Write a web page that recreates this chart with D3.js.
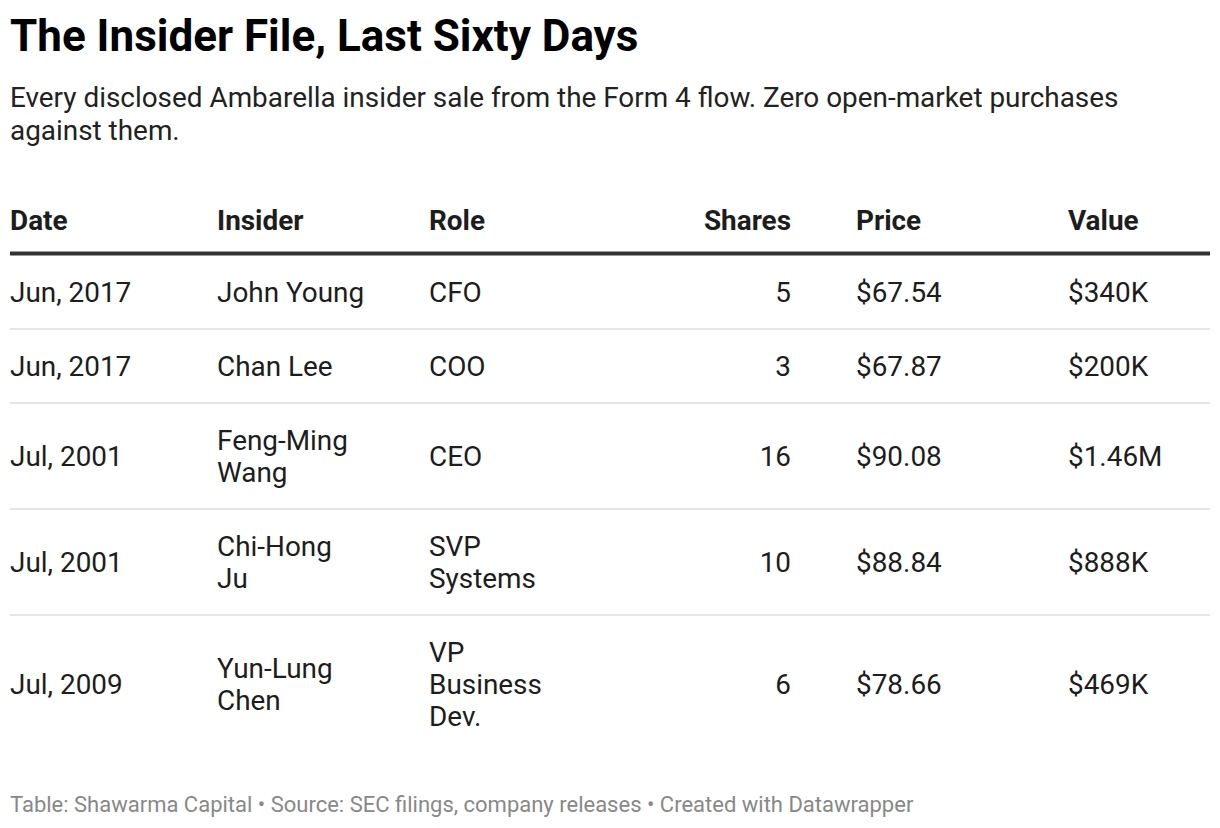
<!DOCTYPE html>
<html>
<head>
<meta charset="utf-8">
<script src="https://cdn.jsdelivr.net/npm/d3@7"></script>
<style>
  html, body { margin: 0; padding: 0; background: #fff; }
  svg { display: block; font-family: Roboto, "Noto Sans", sans-serif; }
</style>
</head>
<body>
<svg id="table"></svg>
<script>
const title = "The Insider File, Last Sixty Days";
const subtitle = "Every disclosed Ambarella insider sale from the Form 4 flow. Zero open-market purchases against them.";
const footer = "Table: Shawarma Capital \u2022 Source: SEC filings, company releases \u2022 Created with Datawrapper";

const headers = ["Date", "Insider", "Role", "Shares", "Price", "Value"];
const dates = ["Jun, 2017", "Jun, 2017", "Jul, 2001", "Jul, 2001", "Jul, 2009"];
const insiders = ["John Young", "Chan Lee", "Feng-Ming Wang", "Chi-Hong Ju", "Yun-Lung Chen"];
const roles = ["CFO", "COO", "CEO", "SVP Systems", "VP Business Dev."];
const shares = [5, 3, 16, 10, 6];
const prices = [67.54, 67.87, 90.08, 88.84, 78.66];
const values = [340000, 200000, 1460000, 888000, 469000];

(function() {
  const W = 1220, H = 828;
  const left = 10, right = 1210;
  const bodySize = 27.9, lineH = 32, pad = 21;

  const fmtPrice = d3.format("$.2f");
  const fmtValue = v => v >= 1e6 ? "$" + (v / 1e6).toFixed(2) + "M" : "$" + Math.round(v / 1e3) + "K";

  // column layout: x start (or end for right aligned), max text width
  const columns = [
    {key: "date",    x: 10,   anchor: "start", max: 190},
    {key: "insider", x: 217,  anchor: "start", max: 150},
    {key: "role",    x: 429,  anchor: "start", max: 140},
    {key: "shares",  x: 791,  anchor: "end",   max: 200},
    {key: "price",   x: 856,  anchor: "start", max: 190},
    {key: "value",   x: 1068, anchor: "start", max: 140}
  ];

  const rows = dates.map((d, i) => ({
    date: d,
    insider: insiders[i],
    role: roles[i],
    shares: String(shares[i]),
    price: fmtPrice(prices[i]),
    value: fmtValue(values[i])
  }));

  const svg = d3.select("#table").attr("width", W).attr("height", H);

  // hidden text for measuring
  const probe = svg.append("text").attr("font-size", bodySize).attr("visibility", "hidden");
  function measure(str, size, weight) {
    probe.attr("font-size", size).attr("font-weight", weight || 400).text(str);
    return probe.node().getComputedTextLength();
  }
  function wrap(str, maxW, size, weight) {
    const words = str.split(/\s+/);
    const lines = [];
    let cur = "";
    words.forEach(w => {
      const test = cur ? cur + " " + w : w;
      if (cur && measure(test, size, weight) > maxW) {
        lines.push(cur);
        cur = w;
      } else {
        cur = test;
      }
    });
    if (cur) lines.push(cur);
    return lines;
  }

  // title
  svg.append("text")
    .attr("x", left).attr("y", 51)
    .attr("font-size", 44).attr("font-weight", 700)
    .attr("fill", "#000")
    .text(title);

  // subtitle
  const subLines = wrap(subtitle, right - left, 27.9, 400);
  svg.append("g").selectAll("text")
    .data(subLines)
    .join("text")
    .attr("x", left)
    .attr("y", (d, i) => 107 + i * 33)
    .attr("font-size", 27.9)
    .attr("fill", "#222")
    .text(d => d);

  // header row
  svg.append("g").selectAll("text")
    .data(columns)
    .join("text")
    .attr("x", d => d.x)
    .attr("y", 230)
    .attr("text-anchor", d => d.anchor)
    .attr("font-size", bodySize)
    .attr("font-weight", 700)
    .attr("fill", "#1d1d1d")
    .text((d, i) => headers[i]);

  const headRuleY = 253.5;
  svg.append("line")
    .attr("x1", left).attr("x2", right)
    .attr("y1", headRuleY).attr("y2", headRuleY)
    .attr("stroke", "#333").attr("stroke-width", 4);

  // wrap cells and compute row heights
  rows.forEach(r => {
    r.cells = columns.map(c => wrap(r[c.key], c.max, bodySize, 400));
    r.nLines = d3.max(r.cells, c => c.length);
    r.h = r.nLines * lineH + pad * 2;
  });
  let y0 = headRuleY + 1.5;
  rows.forEach(r => { r.y = y0; y0 += r.h; });

  const rowG = svg.append("g").selectAll("g.row")
    .data(rows)
    .join("g")
    .attr("class", "row")
    .attr("transform", d => `translate(0,${d.y})`);

  // separators between rows (not after the last)
  rowG.filter((d, i) => i < rows.length - 1)
    .append("line")
    .attr("x1", left).attr("x2", right)
    .attr("y1", d => d.h).attr("y2", d => d.h)
    .attr("stroke", "#e6e6e6").attr("stroke-width", 2);

  rowG.each(function(r) {
    const g = d3.select(this);
    columns.forEach((c, ci) => {
      const lines = r.cells[ci];
      const mid = r.h / 2;
      const startY = mid - (lines.length - 1) * lineH / 2;
      g.append("text")
        .attr("text-anchor", c.anchor)
        .attr("font-size", bodySize)
        .attr("fill", "#1d1d1d")
        .selectAll("tspan")
        .data(lines)
        .join("tspan")
        .attr("x", c.x)
        .attr("y", (d, i) => startY + i * lineH)
        .attr("dy", "0.35em")
        .text(d => d);
    });
  });

  // footer
  svg.append("text")
    .attr("x", left).attr("y", 812)
    .attr("font-size", 22)
    .attr("fill", "#888")
    .text(footer);

  probe.remove();
})();
</script>
</body>
</html>
